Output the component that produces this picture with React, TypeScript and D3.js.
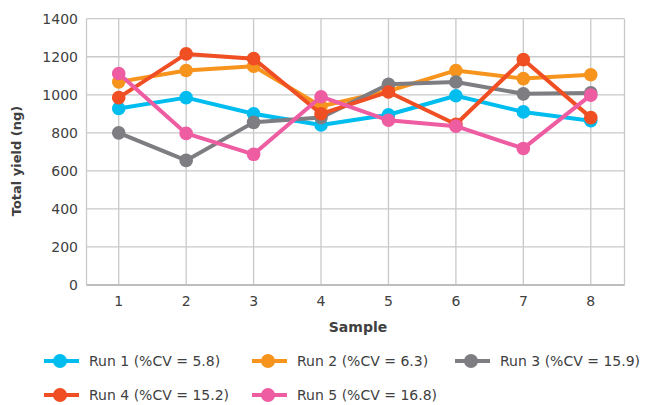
import React from "react";
import * as d3 from "d3";

const samples = ["1", "2", "3", "4", "5", "6", "7", "8"];
const yTicks = [0, 200, 400, 600, 800, 1000, 1200, 1400];
const run1 = [928, 985, 900, 841, 895, 995, 910, 864];
const run2 = [1068, 1128, 1150, 940, 1020, 1128, 1085, 1105];
const run3 = [800, 655, 855, 880, 1055, 1067, 1005, 1010];
const run4 = [985, 1215, 1190, 900, 1015, 845, 1185, 880];
const run5 = [1112, 797, 687, 990, 866, 835, 718, 998];
const seriesNames = [
  "Run 1 (%CV = 5.8)",
  "Run 2 (%CV = 6.3)",
  "Run 3 (%CV = 15.9)",
  "Run 4 (%CV = 15.2)",
  "Run 5 (%CV = 16.8)",
];
const seriesColors = ["#00BDF0", "#F7941E", "#7E7E82", "#F04E23", "#EE5CA2"];
const seriesValues = [run1, run2, run3, run4, run5];

const W = 651;
const H = 405;
const FONT = "'DejaVu Sans', Verdana, sans-serif";
const TEXT = "#404041";

export default function App() {
  const x0 = 86.5;
  const x1 = 624.5;
  const y0 = 285;
  const y1 = 18.7;
  const x = d3.scalePoint<string>().domain(samples).range([x0 - 1.5, x1]).padding(0.5);
  const y = d3.scaleLinear().domain([0, 1400]).range([y0, y1]);
  const line = d3
    .line<number>()
    .x((_, i) => x(samples[i]) as number)
    .y((d) => y(d));

  const legendPos = [
    { lx: 44, ly: 361 },
    { lx: 252, ly: 361 },
    { lx: 455, ly: 361 },
    { lx: 44, ly: 395 },
    { lx: 252, ly: 395 },
  ];

  return (
    <svg width={W} height={H} style={{ position: "absolute", left: 0, top: 0, background: "#fff" }}>
      {/* grid */}
      <g stroke="#C9C9C9" strokeWidth={1.3}>
        {yTicks.map((t) => (
          <line key={t} x1={x0} x2={x1} y1={y(t)} y2={y(t)} />
        ))}
        {samples.map((s) => (
          <line key={s} x1={x(s)} x2={x(s)} y1={y1} y2={y0} />
        ))}
        <line x1={x0} x2={x0} y1={y1} y2={y0} />
        <line x1={x1} x2={x1} y1={y1} y2={y0} />
      </g>
      <line x1={x0} x2={x1} y1={y(0)} y2={y(0)} stroke="#BDBDBD" strokeWidth={1.8} />
      {/* y ticks */}
      <g fontFamily={FONT} fontSize={14} fill={TEXT} textAnchor="end">
        {yTicks.map((t) => (
          <text key={t} x={78} y={y(t)} dy="0.36em">
            {t}
          </text>
        ))}
      </g>
      <g fontFamily={FONT} fontSize={14} fill={TEXT} textAnchor="middle">
        {samples.map((s) => (
          <text key={s} x={x(s)} y={306}>
            {s}
          </text>
        ))}
      </g>
      <text x={358} y={332} textAnchor="middle" fontFamily={FONT} fontWeight="bold" fontSize={14} fill={TEXT}>
        Sample
      </text>
      <text
        transform={`translate(21,161) rotate(-90)`}
        textAnchor="middle"
        fontFamily={FONT}
        fontWeight="bold"
        fontSize={13}
        fill={TEXT}
      >
        Total yield (ng)
      </text>
      {/* series */}
      {seriesValues.map((vals, si) => (
        <g key={si}>
          <path d={line(vals) as string} fill="none" stroke={seriesColors[si]} strokeWidth={4} strokeLinejoin="round" />
          {vals.map((v, i) => (
            <circle key={i} cx={x(samples[i])} cy={y(v)} r={6.8} fill={seriesColors[si]} />
          ))}
        </g>
      ))}
      {/* legend */}
      {seriesNames.map((name, si) => {
        const p = legendPos[si];
        return (
          <g key={name}>
            <line x1={p.lx} x2={p.lx + 35} y1={p.ly} y2={p.ly} stroke={seriesColors[si]} strokeWidth={4} />
            <circle cx={p.lx + 16} cy={p.ly} r={7} fill={seriesColors[si]} />
            <text x={p.lx + 45} y={p.ly} dy="0.36em" fontFamily={FONT} fontSize={14} fill={TEXT}>
              {name}
            </text>
          </g>
        );
      })}
    </svg>
  );
}
